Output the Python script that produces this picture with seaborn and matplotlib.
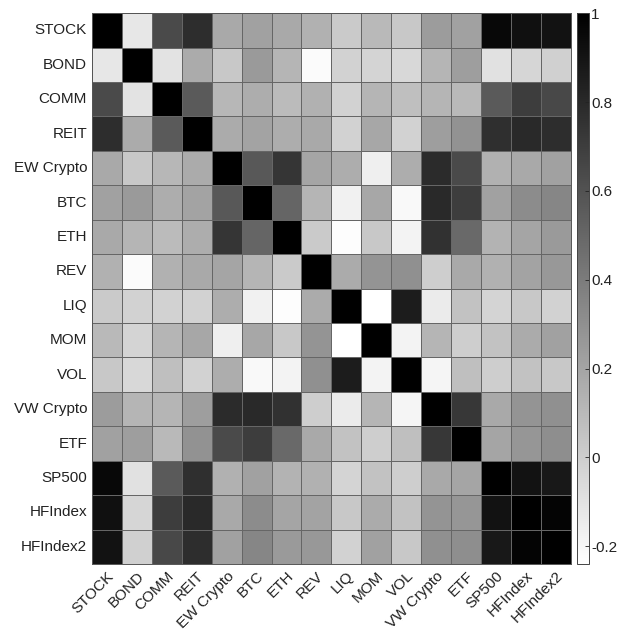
import matplotlib
matplotlib.use("Agg")
import matplotlib.pyplot as plt
import numpy as np
import pandas as pd
import seaborn as sns

# asset names
labels = ["STOCK", "BOND", "COMM", "REIT", "EW Crypto", "BTC", "ETH", "REV",
          "LIQ", "MOM", "VOL", "VW Crypto", "ETF", "SP500", "HFIndex", "HFIndex2"]

# upper triangle of the correlation matrix, one row per asset (diagonal first)
stock = [1, -0.12, 0.64, 0.78, 0.18, 0.22, 0.18, 0.14, 0.02, 0.10, 0.03, 0.24, 0.22, 0.96, 0.92, 0.91]
bond = [1, -0.10, 0.17, 0.03, 0.25, 0.12, -0.22, -0.02, -0.03, -0.05, 0.12, 0.23, -0.09, -0.04, -0.01]
comm = [1, 0.56, 0.11, 0.16, 0.09, 0.14, -0.02, 0.12, 0.07, 0.12, 0.10, 0.56, 0.70, 0.65]
reit = [1, 0.17, 0.21, 0.16, 0.18, -0.02, 0.19, -0.02, 0.23, 0.29, 0.77, 0.80, 0.78]
ew_crypto = [1, 0.57, 0.74, 0.20, 0.16, -0.16, 0.16, 0.79, 0.64, 0.14, 0.18, 0.22]
btc = [1, 0.51, 0.12, -0.17, 0.19, -0.21, 0.80, 0.70, 0.22, 0.32, 0.35]
eth = [1, 0.02, -0.23, 0.03, -0.18, 0.76, 0.49, 0.13, 0.20, 0.25]
rev = [1, 0.17, 0.28, 0.30, 0.00, 0.18, 0.14, 0.21, 0.26]
liq = [1, -0.24, 0.86, -0.14, 0.06, -0.03, 0.03, -0.02]
mom = [1, -0.18, 0.12, 0.00, 0.06, 0.17, 0.22]
vol = [1, -0.19, 0.07, 0.00, 0.06, 0.03]
vw_crypto = [1, 0.73, 0.18, 0.28, 0.30]
etf = [1, 0.20, 0.27, 0.31]
sp500 = [1, 0.91, 0.88]
hfindex = [1, 0.98]
hfindex2 = [1]

rows = [stock, bond, comm, reit, ew_crypto, btc, eth, rev,
        liq, mom, vol, vw_crypto, etf, sp500, hfindex, hfindex2]

# build the symmetric matrix
n = len(labels)
corr = np.zeros((n, n))
for i, r in enumerate(rows):
    corr[i, i:] = r
    corr[i:, i] = r
data = pd.DataFrame(corr, index=labels, columns=labels)

plt.rcParams["font.family"] = ["Liberation Sans", "DejaVu Sans"]

fig = plt.figure(figsize=(6.25, 6.29), dpi=100)
ax = fig.add_axes([0.147, 0.1033, 0.7666, 0.8757])
cax = fig.add_axes([0.9232, 0.1033, 0.0185, 0.8757])

sns.heatmap(data, ax=ax, cbar_ax=cax, cmap="gray_r", vmin=-0.24, vmax=1,
            linewidths=0.5, linecolor="#666666")

ax.tick_params(length=0, labelsize=11, colors="#222222")
ax.set_xticklabels(labels, rotation=45, ha="right", rotation_mode="anchor")
ax.set_yticklabels(labels, rotation=0)
for s in ax.spines.values():
    s.set_visible(True)
    s.set_color("#555555")
    s.set_linewidth(0.7)

cb = ax.collections[0].colorbar
cb.set_ticks([-0.2, 0, 0.2, 0.4, 0.6, 0.8, 1])
cb.set_ticklabels(["-0.2", "0", "0.2", "0.4", "0.6", "0.8", "1"])
cax.tick_params(direction="in", length=3, width=0.6, labelsize=11, pad=2, colors="#222222")
cb.outline.set_edgecolor("#444444")
cb.outline.set_linewidth(0.7)

plt.savefig("out.png", dpi=100)
